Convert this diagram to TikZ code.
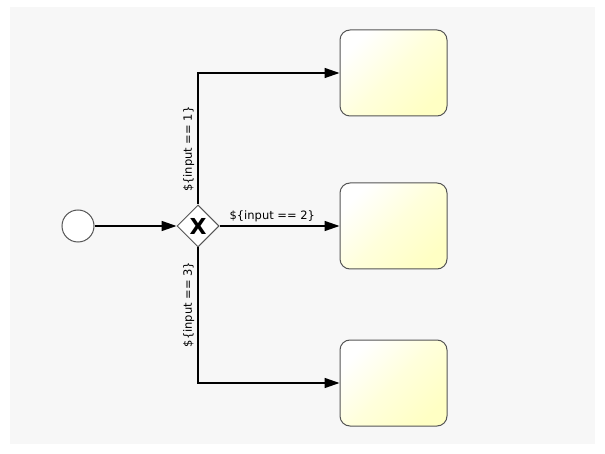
\documentclass[tikz,border=0pt]{standalone}
\usepackage{fontspec}
\setmainfont{DejaVu Sans}
\usepackage{tikz}
\usetikzlibrary{shapes.geometric,arrows.meta,calc}
\definecolor{fond}{HTML}{F7F7F7}
\definecolor{bord}{HTML}{555555}
\definecolor{jaune}{HTML}{FFFFC4}

\begin{document}
\begin{tikzpicture}[x=1pt,y=-1pt,>={Triangle[length=15pt,width=10pt]},
	tache/.style={draw=bord,line width=1pt,rounded corners=10pt,minimum width=107pt,minimum height=86pt,shading=axis,left color=white,right color=jaune,middle color=jaune!60,shading angle=45},
	debut/.style={circle,draw=bord,line width=1pt,fill=white,minimum size=32pt,inner sep=0pt},
	porte/.style={diamond,draw=bord,line width=1pt,fill=white,minimum width=42pt,minimum height=42pt,inner sep=0pt,font=\fontsize{22}{22}\selectfont\bfseries},
	flux/.style={line width=1.5pt,->},
	cond/.style={font=\fontsize{11.5}{13}\selectfont,inner sep=3pt}]
	\useasboundingbox (0,0) rectangle (605,454);
	\fill[fond] (10,7) rectangle (595,444);
	\node[debut] (start) at (78,226) {};
	\node[porte] (gw) at (198,226) {X};
	\node[tache] (taskone) at (393.5,73) {};
	\node[tache] (tasktwo) at (393.5,226) {};
	\node[tache] (taskthree) at (393.5,383) {};
	\draw[flux] (start) -- (gw);
	\draw[flux] (gw.north) |- (taskone) node[cond,pos=0.21,rotate=90,anchor=south]{\$\{input == 1\}};
	\draw[flux] (gw) -- (tasktwo) node[cond,pos=0.44,above]{\$\{input == 2\}};
	\draw[flux] (gw.south) |- (taskthree) node[cond,pos=0.21,rotate=90,anchor=south]{\$\{input == 3\}};
\end{tikzpicture}
\end{document}
